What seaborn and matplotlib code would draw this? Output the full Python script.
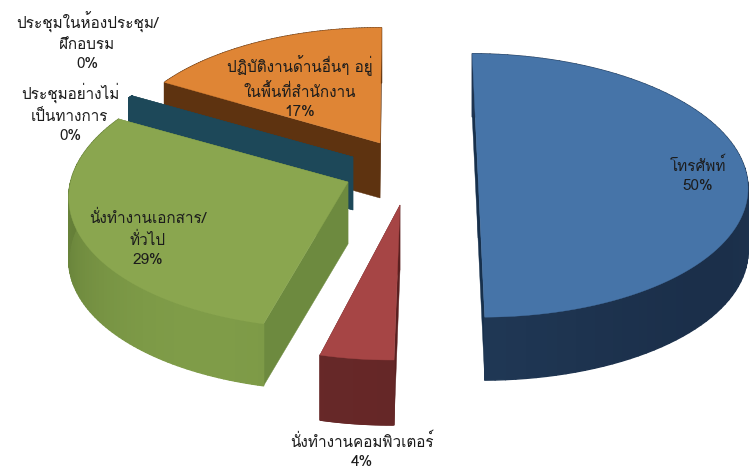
import numpy as np
import matplotlib
matplotlib.use("Agg")
import matplotlib.pyplot as plt
from matplotlib import font_manager as fm
from matplotlib.ft2font import FT2Font
from matplotlib.collections import PolyCollection
import seaborn as sns

# ---- data ----
categories = ["โทรศัพท์", "นั่งทำงานคอมพิวเตอร์", "นั่งทำงานเอกสาร/\nทั่วไป",
              "ประชุมอย่างไม่\nเป็นทางการ", "ประชุมในห้องประชุม/\nฝึกอบรม",
              "ปฏิบัติงานด้านอื่นๆ อยู่\nในพื้นที่สำนักงาน"]
shares = [50.0, 4.0, 29.0, 0.0, 0.4, 16.6]

top_colors = ["#4674a8", "#a64545", "#8aa64f", "#7a5c9e", "#1d4859", "#df8535"]
side_colors_a = ["#213a58", "#672828", "#7f9c48", "#4a3560", "#1d4859", "#5e3310"]
side_colors_b = ["#1b2f4a", "#5f2424", "#637d37", "#4a3560", "#1d4859", "#5e3310"]
face_colors = ["#17304c", "#5a2020", "#6d8a3f", "#4a3560", "#1d4859", "#5e3310"]

# ---- layout of the exploded 3-D pie (figure pixels) ----
start_deg = -6.6
Uy, Vy = 15.0, -130.0
Ux = [270, 250, 264, 270, 270, 270]
Vx = [25, 34, 40, 25, 25, 33]
persp = 0.08
center_x = [478, 400, 348, 353, 353, 380]
center_y = [175, 205, 182, 157, 157, 143]
scales = [1.00, 1.09, 1.03, 0.96, 0.96, 0.95]
depths = [63, 65, 62, 53, 53, 55]
label_xy = [(698, 175), (362, 451), (148, 238), (70, 113), (87, 41), (300, 87)]
draw_order = [5, 3, 4, 2, 1, 0]


def thai_family():
    for f in fm.fontManager.ttflist:
        try:
            if 0x0E17 in FT2Font(f.fname).get_charmap():
                return f.name
        except Exception:
            pass
    return "DejaVu Sans"


sns.set_theme(style="white")
plt.rcParams["font.family"] = [thai_family(), "DejaVu Sans"]
palette = sns.color_palette(top_colors)

fig, ax = plt.subplots(figsize=(7.49, 4.68), dpi=100)
ax.set_position([0, 0, 1, 1])
ax.set_xlim(0, 749)
ax.set_ylim(468, 0)
ax.axis("off")


def rim(i, t):
    """Points on a slice's rim for clockwise angles t (degrees from 12 o'clock)."""
    r = np.radians(t)
    s, c = np.sin(r), np.cos(r)
    d = 1 + persp * c
    x = center_x[i] + scales[i] * (Ux[i] * s + Vx[i] * c) / d
    y = center_y[i] + scales[i] * (Uy * s + Vy * c) / d
    return np.column_stack([x, y])


edges = start_deg + np.concatenate([[0], np.cumsum(shares)]) * 3.6
for rank, i in enumerate(draw_order):
    t0, t1 = edges[i], edges[i + 1]
    if t1 - t0 <= 0:
        continue
    apex = np.array([center_x[i], center_y[i]], float)
    down = np.array([0, depths[i]], float)
    ts = np.linspace(t0, t1, 90)
    arc = rim(i, ts)
    base = rank * 3
    # radial cut faces
    for t in (t0, t1):
        p = rim(i, np.array([t]))[0]
        ax.fill(*np.array([apex, p, p + down, apex + down]).T, color=face_colors[i], lw=0.3, zorder=1 + base)
    # outer wall with a soft gradient
    ca = np.array(matplotlib.colors.to_rgb(side_colors_a[i]))
    cb = np.array(matplotlib.colors.to_rgb(side_colors_b[i]))
    quads, cols = [], []
    for k in range(len(ts) - 1):
        quads.append([arc[k], arc[k + 1], arc[k + 1] + down, arc[k] + down])
        f = 0.5 + 0.5 * np.cos(np.radians(ts[k] - 200) * 2.2)
        cols.append(cb + (ca - cb) * np.clip(f, 0, 1))
    ax.add_collection(PolyCollection(quads, facecolors=cols, edgecolors=cols, linewidths=1.0,
                                     zorder=2 + base))
    # top surface
    ax.fill(*np.vstack([apex, arc]).T, color=palette[i], lw=0.3, zorder=3 + base)

for i, (name, share) in enumerate(zip(categories, shares)):
    ax.text(label_xy[i][0], label_xy[i][1], f"{name}\n{share:.0f}%", ha="center", va="center",
            fontsize=11, color="#1c1c1c", linespacing=1.45, zorder=100, clip_on=False)

fig.savefig("out.png", dpi=100)
